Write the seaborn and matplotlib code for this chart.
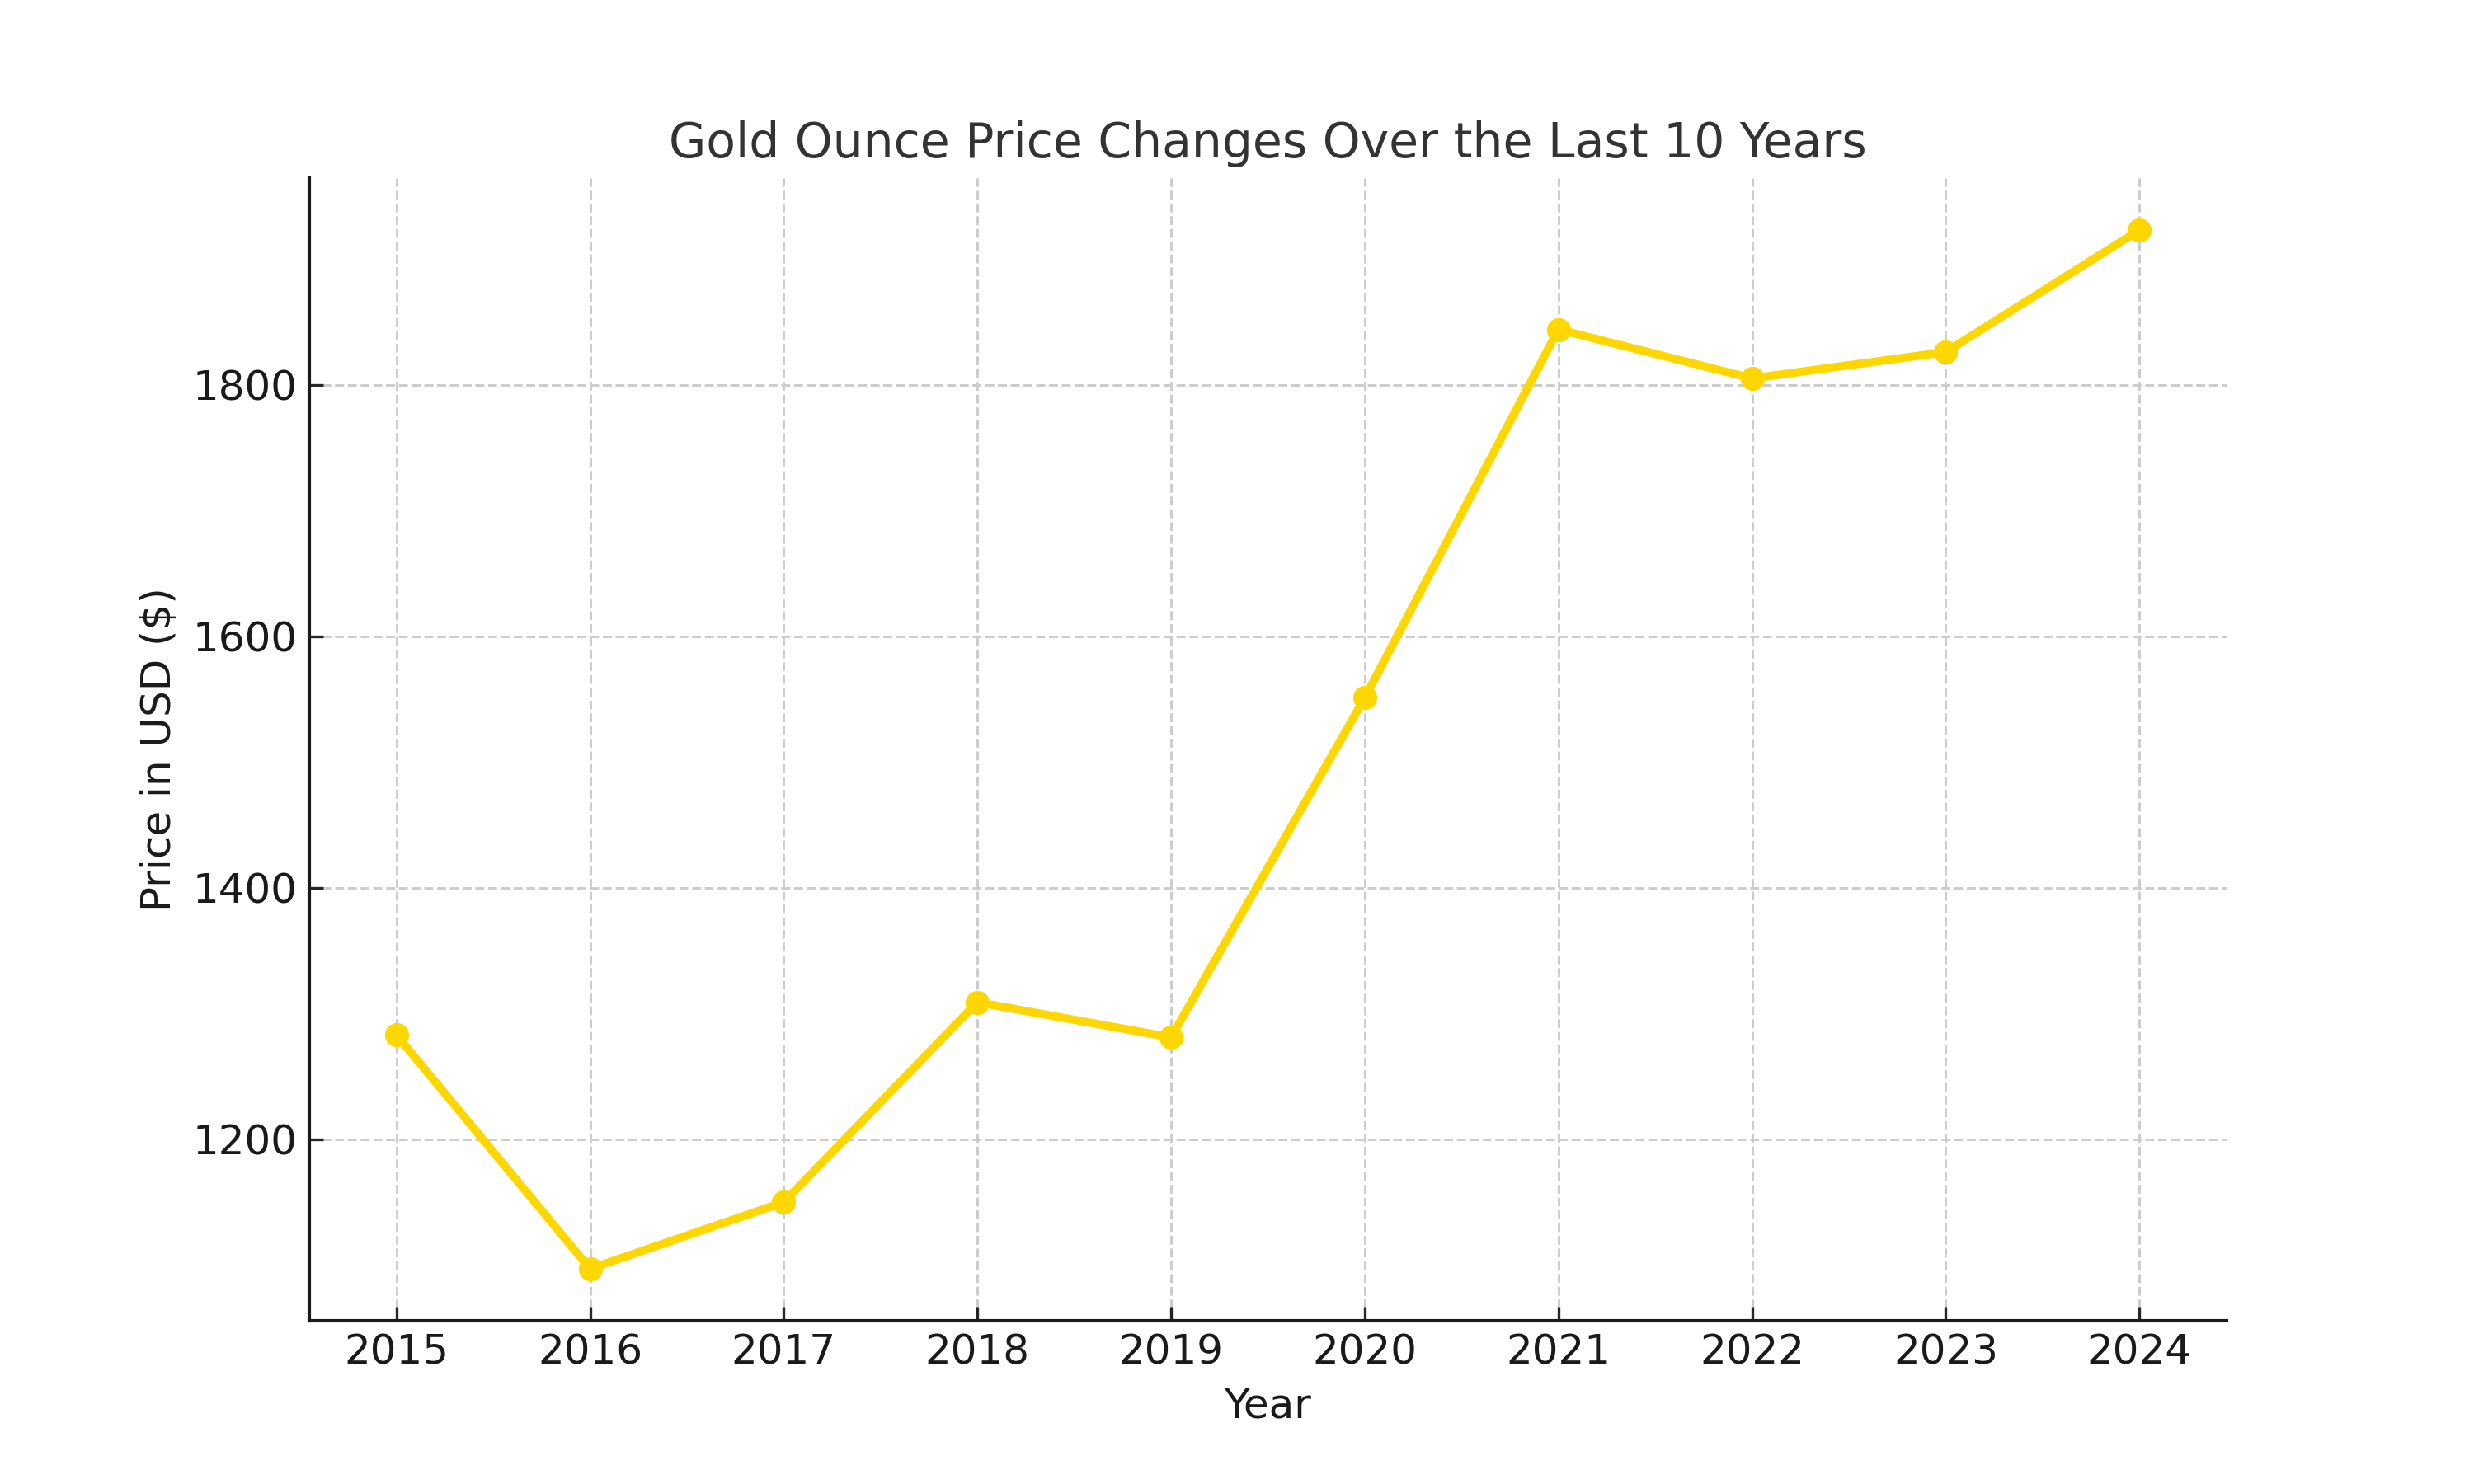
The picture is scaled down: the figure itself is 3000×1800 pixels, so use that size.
import matplotlib
matplotlib.use("Agg")
import matplotlib.pyplot as plt
import seaborn as sns
import pandas as pd

years = [2015, 2016, 2017, 2018, 2019, 2020, 2021, 2022, 2023, 2024]
prices = [1283, 1097, 1150, 1309, 1281, 1551, 1844, 1805, 1826, 1923]

df = pd.DataFrame({"Year": years, "Price": prices})

sns.set_style("ticks")
plt.rcParams["font.family"] = ["DejaVu Sans"]

fig, ax = plt.subplots(figsize=(10, 6), dpi=300)
sns.lineplot(data=df, x="Year", y="Price", ax=ax, color="#FFD700",
             linewidth=2.4, marker="o", markersize=7, markeredgewidth=0)

ax.set_title("Gold Ounce Price Changes Over the Last 10 Years", fontsize=14, color="#333333")
ax.set_xlabel("Year", fontsize=12, color="#1a1a1a")
ax.set_ylabel("Price in USD ($)", fontsize=12, color="#1a1a1a")
ax.set_xticks(years)
ax.set_yticks([1200, 1400, 1600, 1800])
ax.tick_params(axis="both", direction="in", labelsize=12, labelcolor="#1a1a1a", length=4)
ax.grid(True, linestyle="--", color="#cccccc", linewidth=0.7)
ax.set_axisbelow(True)
sns.despine(ax=ax)
for s in ["left", "bottom"]:
    ax.spines[s].set_linewidth(1.0)
    ax.spines[s].set_color("#1a1a1a")

fig.savefig("out.png", dpi=300)
